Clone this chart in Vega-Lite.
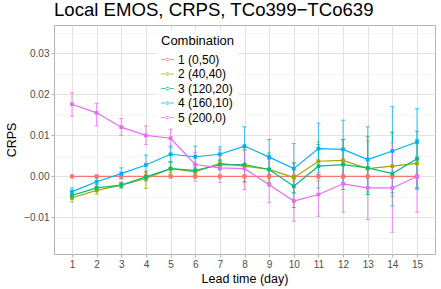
{
  "$schema": "https://vega.github.io/schema/vega-lite/v6.json",
  "width": 381,
  "height": 229,
  "autosize": "none",
  "padding": {"left": 54, "top": 25, "right": 6, "bottom": 35},
  "background": "white",
  "title": {"text": "Local EMOS, CRPS, TCo399−TCo639", "anchor": "start", "frame": "group", "fontSize": 18.6, "font": "Liberation Sans", "fontWeight": "normal", "color": "black", "offset": 5},
  "config": {
    "view": {"stroke": "#B3B3B3", "strokeWidth": 1},
    "font": "Liberation Sans",
    "axis": {"labelFont": "Liberation Sans", "titleFont": "Liberation Sans", "labelColor": "#4D4D4D", "labelFontSize": 10, "titleFontSize": 12.5, "titleFontWeight": "normal", "titleColor": "black", "tickColor": "#B3B3B3", "tickSize": 3, "domain": false, "gridColor": "#E3E3E3", "gridWidth": 1, "labelOverlap": false}
  },
  "resolve": {"axis": {"y": "independent"}},
  "data": {"values": [
    {"day":1,"combo":"1 (0,50)","v":0,"lo":-0.0004,"hi":0.0004},
    {"day":2,"combo":"1 (0,50)","v":0,"lo":-0.0004,"hi":0.0004},
    {"day":3,"combo":"1 (0,50)","v":0,"lo":-0.0004,"hi":0.0004},
    {"day":4,"combo":"1 (0,50)","v":0,"lo":-0.0004,"hi":0.0004},
    {"day":5,"combo":"1 (0,50)","v":0,"lo":-0.0004,"hi":0.0004},
    {"day":6,"combo":"1 (0,50)","v":0,"lo":-0.0004,"hi":0.0004},
    {"day":7,"combo":"1 (0,50)","v":0,"lo":-0.0004,"hi":0.0004},
    {"day":8,"combo":"1 (0,50)","v":0,"lo":-0.0004,"hi":0.0004},
    {"day":9,"combo":"1 (0,50)","v":0,"lo":-0.0004,"hi":0.0004},
    {"day":10,"combo":"1 (0,50)","v":0,"lo":-0.0004,"hi":0.0004},
    {"day":11,"combo":"1 (0,50)","v":0,"lo":-0.0004,"hi":0.0004},
    {"day":12,"combo":"1 (0,50)","v":0,"lo":-0.0004,"hi":0.0004},
    {"day":13,"combo":"1 (0,50)","v":0,"lo":-0.0004,"hi":0.0004},
    {"day":14,"combo":"1 (0,50)","v":0,"lo":-0.0004,"hi":0.0004},
    {"day":15,"combo":"1 (0,50)","v":0,"lo":-0.0004,"hi":0.0004},
    {"day":1,"combo":"2 (40,40)","v":-0.0052,"lo":-0.0062,"hi":-0.0044},
    {"day":2,"combo":"2 (40,40)","v":-0.0034,"lo":-0.0043,"hi":-0.0026},
    {"day":3,"combo":"2 (40,40)","v":-0.0021,"lo":-0.0028,"hi":-0.0015},
    {"day":4,"combo":"2 (40,40)","v":-0.0005,"lo":-0.0029,"hi":0.0009},
    {"day":5,"combo":"2 (40,40)","v":0.0019,"lo":0.001,"hi":0.0036},
    {"day":6,"combo":"2 (40,40)","v":0.0011,"lo":-0.0003,"hi":0.0028},
    {"day":7,"combo":"2 (40,40)","v":0.0032,"lo":0.0017,"hi":0.0041},
    {"day":8,"combo":"2 (40,40)","v":0.0025,"lo":-0.0014,"hi":0.0064},
    {"day":9,"combo":"2 (40,40)","v":0.0017,"lo":-0.0015,"hi":0.005},
    {"day":10,"combo":"2 (40,40)","v":-0.0003,"lo":-0.004,"hi":0.0033},
    {"day":11,"combo":"2 (40,40)","v":0.0037,"lo":-0.0011,"hi":0.0084},
    {"day":12,"combo":"2 (40,40)","v":0.0039,"lo":-0.0015,"hi":0.009},
    {"day":13,"combo":"2 (40,40)","v":0.0019,"lo":-0.0044,"hi":0.0086},
    {"day":14,"combo":"2 (40,40)","v":0.0025,"lo":-0.0048,"hi":0.0106},
    {"day":15,"combo":"2 (40,40)","v":0.0032,"lo":-0.0032,"hi":0.009},
    {"day":1,"combo":"3 (120,20)","v":-0.0046,"lo":-0.0055,"hi":-0.0038},
    {"day":2,"combo":"3 (120,20)","v":-0.0028,"lo":-0.0036,"hi":-0.002},
    {"day":3,"combo":"3 (120,20)","v":-0.0021,"lo":-0.0028,"hi":-0.0014},
    {"day":4,"combo":"3 (120,20)","v":-0.0001,"lo":-0.0011,"hi":0.0013},
    {"day":5,"combo":"3 (120,20)","v":0.0019,"lo":0.0005,"hi":0.0035},
    {"day":6,"combo":"3 (120,20)","v":0.0015,"lo":0.0002,"hi":0.0028},
    {"day":7,"combo":"3 (120,20)","v":0.0028,"lo":0.0016,"hi":0.0039},
    {"day":8,"combo":"3 (120,20)","v":0.0029,"lo":-0.0012,"hi":0.0070},
    {"day":9,"combo":"3 (120,20)","v":0.0017,"lo":-0.0022,"hi":0.0057},
    {"day":10,"combo":"3 (120,20)","v":-0.0024,"lo":-0.0076,"hi":0.0033},
    {"day":11,"combo":"3 (120,20)","v":0.0025,"lo":-0.0028,"hi":0.0078},
    {"day":12,"combo":"3 (120,20)","v":0.0029,"lo":-0.0032,"hi":0.009},
    {"day":13,"combo":"3 (120,20)","v":0.0021,"lo":-0.0044,"hi":0.0097},
    {"day":14,"combo":"3 (120,20)","v":0.0007,"lo":-0.0072,"hi":0.0108},
    {"day":15,"combo":"3 (120,20)","v":0.0043,"lo":-0.0028,"hi":0.011},
    {"day":1,"combo":"4 (160,10)","v":-0.0037,"lo":-0.0048,"hi":-0.0028},
    {"day":2,"combo":"4 (160,10)","v":-0.0013,"lo":-0.0024,"hi":-0.0003},
    {"day":3,"combo":"4 (160,10)","v":0.0007,"lo":-0.0006,"hi":0.0021},
    {"day":4,"combo":"4 (160,10)","v":0.0028,"lo":0.0002,"hi":0.0052},
    {"day":5,"combo":"4 (160,10)","v":0.0054,"lo":0.0035,"hi":0.0074},
    {"day":6,"combo":"4 (160,10)","v":0.0048,"lo":0.0021,"hi":0.0074},
    {"day":7,"combo":"4 (160,10)","v":0.0054,"lo":0.0033,"hi":0.0072},
    {"day":8,"combo":"4 (160,10)","v":0.0074,"lo":0.0027,"hi":0.0121},
    {"day":9,"combo":"4 (160,10)","v":0.0047,"lo":0.0005,"hi":0.009},
    {"day":10,"combo":"4 (160,10)","v":0.0019,"lo":-0.004,"hi":0.008},
    {"day":11,"combo":"4 (160,10)","v":0.0068,"lo":0.0005,"hi":0.013},
    {"day":12,"combo":"4 (160,10)","v":0.0066,"lo":-0.0003,"hi":0.0137},
    {"day":13,"combo":"4 (160,10)","v":0.0041,"lo":-0.0038,"hi":0.0121},
    {"day":14,"combo":"4 (160,10)","v":0.0062,"lo":-0.004,"hi":0.017},
    {"day":15,"combo":"4 (160,10)","v":0.0084,"lo":-0.0028,"hi":0.0165},
    {"day":1,"combo":"5 (200,0)","v":0.0176,"lo":0.0147,"hi":0.0204},
    {"day":2,"combo":"5 (200,0)","v":0.0155,"lo":0.0123,"hi":0.0178},
    {"day":3,"combo":"5 (200,0)","v":0.012,"lo":0.01,"hi":0.0141},
    {"day":4,"combo":"5 (200,0)","v":0.010,"lo":0.0078,"hi":0.0123},
    {"day":5,"combo":"5 (200,0)","v":0.0093,"lo":0.007,"hi":0.0115},
    {"day":6,"combo":"5 (200,0)","v":0.0029,"lo":-0.0011,"hi":0.0058},
    {"day":7,"combo":"5 (200,0)","v":0.0021,"lo":-0.0015,"hi":0.0066},
    {"day":8,"combo":"5 (200,0)","v":0.0019,"lo":-0.0032,"hi":0.0066},
    {"day":9,"combo":"5 (200,0)","v":-0.002,"lo":-0.0064,"hi":0.0041},
    {"day":10,"combo":"5 (200,0)","v":-0.006,"lo":-0.0109,"hi":-0.0011},
    {"day":11,"combo":"5 (200,0)","v":-0.0044,"lo":-0.0097,"hi":0.0009},
    {"day":12,"combo":"5 (200,0)","v":-0.0018,"lo":-0.0087,"hi":0.0033},
    {"day":13,"combo":"5 (200,0)","v":-0.0028,"lo":-0.0105,"hi":0.0017},
    {"day":14,"combo":"5 (200,0)","v":-0.0028,"lo":-0.0136,"hi":0.0082},
    {"day":15,"combo":"5 (200,0)","v":0.0,"lo":-0.0087,"hi":0.005}
  ]},
  "encoding": {
    "x": {"field": "day", "type": "quantitative", "scale": {"domain": [0.27, 15.73], "nice": false, "zero": false},
      "axis": {"values": [1,2,3,4,5,6,7,8,9,10,11,12,13,14,15], "title": "Lead time (day)", "labelPadding": 2, "titleY": 28, "titleBaseline": "alphabetic"}},
    "color": {"field": "combo", "type": "nominal", "title": "Combination",
      "scale": {"domain": ["1 (0,50)","2 (40,40)","3 (120,20)","4 (160,10)","5 (200,0)"], "range": ["#F8766D","#A3A500","#00BF7D","#00B0F6","#E76BF3"]},
      "legend": {"orient": "none", "legendX": 103, "legendY": 6, "fillColor": "white", "padding": 4, "titleFontSize": 13, "titleFontWeight": "normal", "titleColor": "black", "titleFont": "Liberation Sans", "labelFont": "Liberation Sans", "labelFontSize": 12, "labelColor": "black", "titlePadding": 5, "rowPadding": 1.5, "symbolSize": 165, "symbolStrokeWidth": 0, "labelOffset": 4,
           "symbolType": "M-1,-0.09H1V0.09H-1Z M-0.28,0A0.28,0.28 0 1,0 0.28,0A0.28,0.28 0 1,0 -0.28,0Z"}}
  },
  "layer": [
    {"mark": {"type": "rule", "strokeWidth": 1, "opacity": 0.75},
     "encoding": {"y": {"field": "lo", "type": "quantitative",
        "scale": {"domain": [-0.0189, 0.0369], "nice": false, "zero": false},
        "axis": {"orient": "left", "values": [-0.015,-0.005,0.005,0.015,0.025,0.035], "title": null, "labels": false, "ticks": false, "grid": true, "gridColor": "#EEEEEE", "gridWidth": 0.6}},
        "y2": {"field": "hi"}}},
    {"mark": {"type": "tick", "orient": "horizontal", "size": 4, "thickness": 1, "opacity": 0.75},
     "encoding": {"y": {"field": "lo", "type": "quantitative", "axis": null}}},
    {"mark": {"type": "tick", "orient": "horizontal", "size": 4, "thickness": 1, "opacity": 0.75},
     "encoding": {"y": {"field": "hi", "type": "quantitative", "axis": null}}},
    {"mark": {"type": "line", "strokeWidth": 1.2},
     "encoding": {"y": {"field": "v", "type": "quantitative",
       "axis": {"orient": "left", "values": [-0.01, 0, 0.01, 0.02, 0.03], "title": "CRPS", "titleX": -36, "grid": true,
         "labelExpr": "replace(format(datum.value, '.2f'), '-', '−')"}}}},
    {"mark": {"type": "point", "filled": true, "size": 14, "opacity": 1, "shape": "square"},
     "encoding": {"y": {"field": "v", "type": "quantitative", "axis": null}}}
  ]
}
